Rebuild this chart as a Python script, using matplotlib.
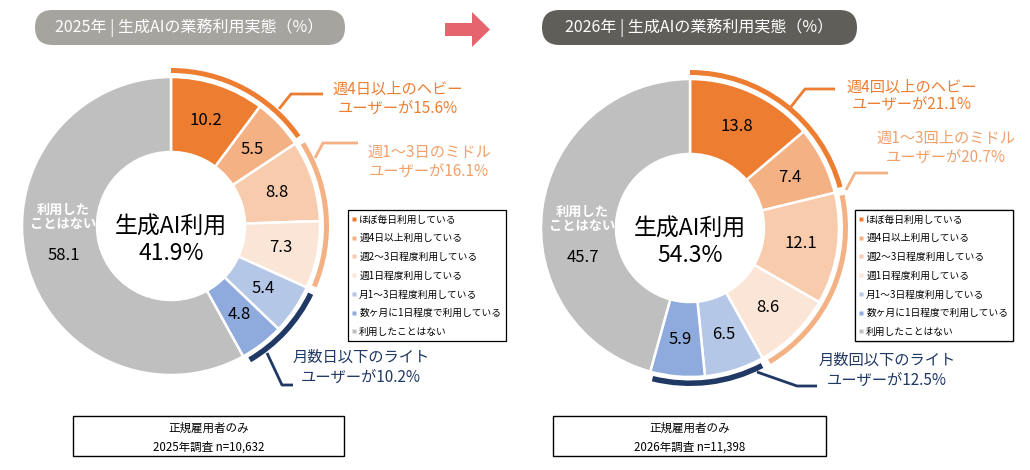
import numpy as np
import matplotlib
matplotlib.use('Agg')
import matplotlib.pyplot as plt
from matplotlib.patches import Wedge, FancyBboxPatch, Rectangle, FancyArrow
from matplotlib.lines import Line2D

plt.rcParams['font.family'] = ['Noto Sans CJK JP', 'DejaVu Sans']

# data
categories = ['ほぼ毎日利用している', '週4日以上利用している', '週2～3日程度利用している',
              '週1日程度利用している', '月1～3日程度利用している',
              '数ヶ月に1日程度で利用している', '利用したことはない']
vals_2025 = [10.2, 5.5, 8.8, 7.3, 5.4, 4.8, 58.1]
vals_2026 = [13.8, 7.4, 12.1, 8.6, 6.5, 5.9, 45.7]
use_2025 = 41.9
use_2026 = 54.3
groups = [(0, 2), (2, 4), (4, 6)]   # heavy / middle / light
group_pct_2025 = [15.6, 16.1, 10.2]
group_pct_2026 = [21.1, 20.7, 12.5]
titles = ['2025年 | 生成AIの業務利用実態（%）', '2026年 | 生成AIの業務利用実態（%）']
notes = ['2025年調査 n=10,632', '2026年調査 n=11,398']
group_text_2025 = ['週4日以上のヘビー', '週1～3日のミドル', '月数日以下のライト']
group_text_2026 = ['週4回以上のヘビー', '週1～3回上のミドル', '月数回以下のライト']

colors = ['#ED7D31', '#F4B183', '#F8CBAD', '#FBE5D6', '#B4C7E7', '#8FAADC', '#BFBFBF']
arc_colors = ['#ED7D31', '#F4B183', '#1F3864']
text_colors = ['#ED7D31', '#F0A06A', '#203864']

W, H = 1030, 470
fig = plt.figure(figsize=(W / 100, H / 100), dpi=100)
ax = fig.add_axes([0, 0, 1, 1])


def Y(y):
    return H - y


def donut(cx, cy, vals, center_pct, gtext, gpct, leaders, gtext_pos, leg_xy):
    R, wd = 149, 75
    wedges, _ = ax.pie(vals, colors=colors, startangle=90, counterclock=False,
                       center=(cx, Y(cy)), radius=R,
                       wedgeprops=dict(width=wd, edgecolor='white', linewidth=1.8))
    rm = R - wd / 2
    for i, w in enumerate(wedges[:-1]):
        a = np.deg2rad((w.theta1 + w.theta2) / 2)
        ax.text(cx + rm * np.cos(a), Y(cy) + rm * np.sin(a), f'{vals[i]:.1f}',
                ha='center', va='center', fontsize=12, color='black')
    # grey slice
    a = np.deg2rad(195.5)
    ax.text(cx + rm * np.cos(a), Y(cy) + rm * np.sin(a), f'{vals[-1]:.1f}',
            ha='center', va='center', fontsize=12, color='black')
    ax.text(cx + rm * np.cos(a), Y(cy) + 9, '利用した\nことはない', ha='center',
            va='center', fontsize=9.5, color='white', linespacing=1.0,
            fontweight='bold')
    # centre
    ax.text(cx, Y(cy) - 1, '生成AI利用', ha='center', va='center', fontsize=16.5)
    ax.text(cx, Y(cy) - 27, f'{center_pct:.1f}%', ha='center', va='center', fontsize=16.5)

    # outer arcs per group
    total = sum(vals)
    cum = np.concatenate([[0], np.cumsum(vals)])
    for k, (s, e) in enumerate(groups):
        t2 = 90 - 360 * cum[s] / total - (0 if k == 0 else 1.5)
        t1 = 90 - 360 * cum[e] / total + 1.5
        ax.add_patch(Wedge((cx, Y(cy)), 158, t1, t2, width=5 if k < 2 else 5.5,
                           color=arc_colors[k], lw=0))
        xs, ys = zip(*leaders[k])
        ax.plot(xs, [Y(v) for v in ys], color=arc_colors[k], lw=2,
                solid_capstyle='butt')
        tx, ty1, ty2 = gtext_pos[k]
        ax.text(tx, Y(ty1), gtext[k], ha='center', va='center', fontsize=11,
                color=text_colors[k])
        ax.text(tx, Y(ty2), f'ユーザーが{gpct[k]}%', ha='center', va='center',
                fontsize=11, color=text_colors[k])

    handles = [Line2D([], [], ls='none', marker='s', ms=2.6, mfc=c, mec='none')
               for c in colors]
    leg = ax.legend(handles, categories, loc='upper left',
                    bbox_to_anchor=(leg_xy[0], Y(leg_xy[1])),
                    bbox_transform=ax.transData, fontsize=7.0, frameon=True,
                    fancybox=False, edgecolor='black', framealpha=1,
                    handlelength=0.4, handletextpad=0.3, labelspacing=0.9,
                    borderpad=0.45, borderaxespad=0)
    leg.get_frame().set_linewidth(0.9)
    ax.add_artist(leg)


donut(171, 226, vals_2025, use_2025, group_text_2025, group_pct_2025,
      leaders=[[(279, 109), (291, 94), (323, 94)],
               [(315, 158), (323, 143), (358, 143)],
               [(267, 353), (282, 385), (293, 385)]],
      gtext_pos=[(398, 89, 108), (429, 152, 171), (361, 357, 377)],
      leg_xy=(348, 210))
donut(690, 228, vals_2026, use_2026, group_text_2026, group_pct_2026,
      leaders=[[(790, 108), (805, 89), (835, 89)],
               [(846, 190), (855, 173), (888, 173)],
               [(757, 372), (797, 386), (817, 386)]],
      gtext_pos=[(912, 87, 104), (946, 138, 157), (887, 360, 380)],
      leg_xy=(855, 210))

# title pills
for (x0, x1, fc, tx), t in zip([(35, 345, '#A6A49F', 189), (542, 857, '#5F5E58', 699)], titles):
    ax.add_patch(FancyBboxPatch((x0, Y(45)), x1 - x0, 35,
                                boxstyle='round,pad=0,rounding_size=17.5',
                                fc=fc, ec='none'))
    ax.text(tx, Y(28), t, ha='center', va='center', fontsize=11.5, color='white')

# arrow
ax.add_patch(FancyArrow(445, Y(29.5), 45, 0, width=13, head_width=35, head_length=18,
                        length_includes_head=True, fc='#E5646E', ec='none'))

# bottom note boxes
for (x0, x1), n in zip([(73, 344), (553, 826)], notes):
    ax.add_patch(Rectangle((x0, Y(456)), x1 - x0, 40, fc='white', ec='black', lw=1))
    ax.text((x0 + x1) / 2, Y(428), '正規雇用者のみ', ha='center', va='center', fontsize=8.3)
    ax.text((x0 + x1) / 2, Y(447), n, ha='center', va='center', fontsize=8.3)

ax.set_xlim(0, W)
ax.set_ylim(0, H)
ax.set_aspect('equal')
ax.axis('off')
fig.savefig('out.png', dpi=100)
